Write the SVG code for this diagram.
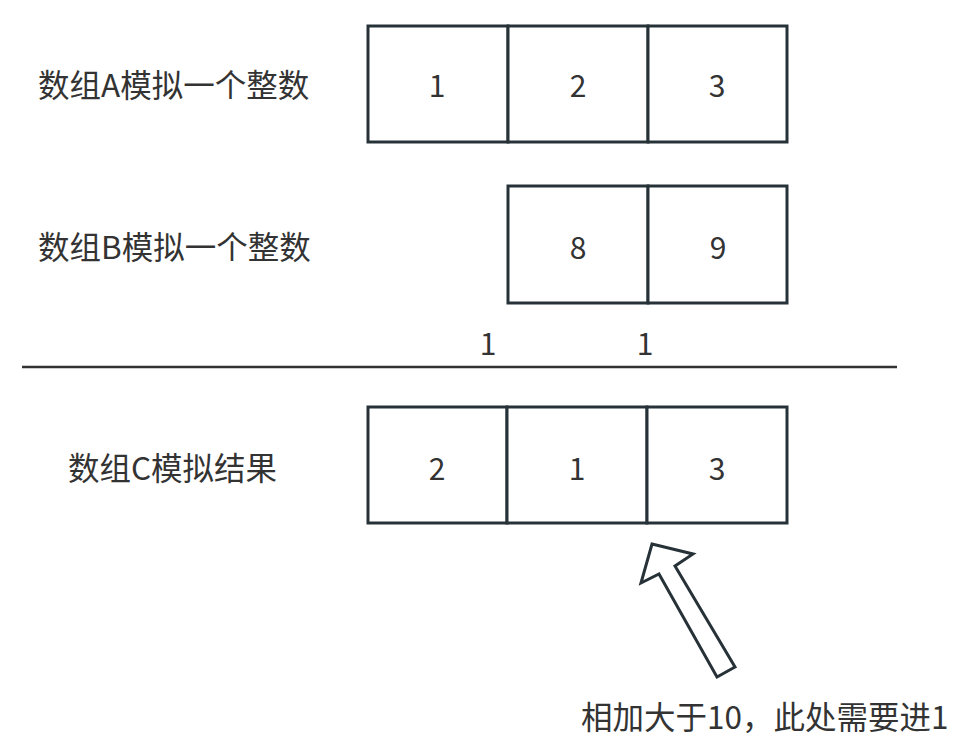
<svg xmlns="http://www.w3.org/2000/svg" width="964" height="751" viewBox="0 0 964 751">
<style>
.cell{fill:#fff;stroke:#263238;stroke-width:3}
.t{font-family:"Noto Sans CJK SC","Liberation Sans",sans-serif;font-size:30px;fill:#333}
.l{font-size:31.5px}
.c{text-anchor:middle;dominant-baseline:central}
</style>
<rect width="964" height="751" fill="#fff"/>
<g id="labelA"><text class="t l" x="38" y="97">数组A模拟一个整数</text></g>
<g id="labelB"><text class="t l" x="38" y="259">数组B模拟一个整数</text></g>
<g id="labelC"><text class="t l" x="68" y="480">数组C模拟结果</text></g>
<g id="rowA">
<rect class="cell" x="368" y="26" width="140" height="116"/>
<rect class="cell" x="508" y="26" width="140" height="116"/>
<rect class="cell" x="648" y="26" width="139" height="116"/>
<text class="t c" x="437" y="84">1</text>
<text class="t c" x="578" y="84">2</text>
<text class="t c" x="717" y="84">3</text>
</g>
<g id="rowB">
<rect class="cell" x="508" y="186" width="140" height="117"/>
<rect class="cell" x="648" y="186" width="139" height="117"/>
<text class="t c" x="578" y="246">8</text>
<text class="t c" x="718" y="246">9</text>
</g>
<g id="carry">
<text class="t c" x="488" y="342">1</text>
<text class="t c" x="645" y="342">1</text>
</g>
<g id="rule"><line x1="22" y1="367" x2="897" y2="367" stroke="#333" stroke-width="2.5"/></g>
<g id="rowC">
<rect class="cell" x="368" y="407" width="139" height="116"/>
<rect class="cell" x="507" y="407" width="140" height="116"/>
<rect class="cell" x="647" y="407" width="140" height="116"/>
<text class="t c" x="437" y="467">2</text>
<text class="t c" x="577" y="467">1</text>
<text class="t c" x="717" y="467">3</text>
</g>
<g id="connectors">
<polygon points="652,544 693,554 675,566 735,667 717,677 659,574 641,583" fill="#fff" stroke="#263238" stroke-width="3" stroke-linejoin="miter"/>
</g>
<g id="note"><text class="t l" x="581" y="729">相加大于10，此处需要进1</text></g>
</svg>
